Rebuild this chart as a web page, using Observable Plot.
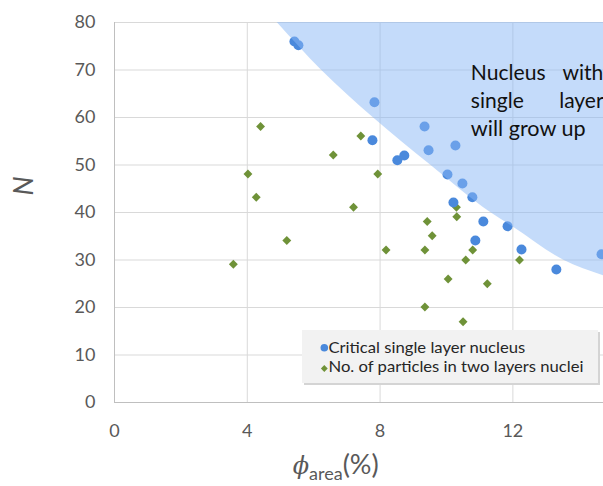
<!DOCTYPE html>
<html><head><meta charset="utf-8">
<script src="https://cdn.jsdelivr.net/npm/d3@7"></script>
<script src="https://cdn.jsdelivr.net/npm/@observablehq/plot@0.6"></script>
<style>
html,body{margin:0;padding:0;background:#fff;overflow:hidden;}
#chart{position:relative;width:603px;height:486px;overflow:hidden;}
</style>
</head><body><div id="chart"></div>
<script>
// Critical single layer nucleus (circles)
const criticalPhi = [5.42, 5.54, 7.83, 7.77, 8.52, 8.73, 9.34, 9.46, 10.27, 10.03, 10.48, 10.21, 10.78, 11.11, 11.84, 10.87, 12.26, 13.31, 14.67];
const criticalN   = [76.0, 75.2, 63.2, 55.2, 51.0, 52.0, 58.1, 53.1, 54.1, 48.0, 46.1, 42.1, 43.2, 38.1, 37.1, 34.1, 32.2, 28.0, 31.2];
// No. of particles in two layers nuclei (diamonds)
const twoLayerPhi = [4.40, 7.42, 6.59, 4.02, 7.93, 4.27, 7.20, 5.19, 3.58, 10.30, 10.31, 9.42, 9.57, 8.18, 9.35, 10.79, 10.58, 12.20, 10.05, 11.23, 9.35, 10.50];
const twoLayerN   = [58.1, 56.1, 52.1, 48.1, 48.1, 43.2, 41.1, 34.1, 29.1, 41.1, 39.1, 38.1, 35.1, 32.1, 32.1, 32.1, 30.0, 30.0, 26.0, 25.0, 20.1, 17.0];
// Boundary of the shaded region "Nucleus with single layer will grow up"
const boundaryPhi = [4.90, 6.23, 7.79, 9.52, 11.33, 12.02, 13.52, 14.73];
const boundaryN   = [80, 70, 60, 50, 40, 36.9, 30, 26.7];
const xTicks = [0, 4, 8, 12];
const yTicks = [0, 10, 20, 30, 40, 50, 60, 70, 80];
const seriesNames = ["Critical single layer nucleus", "No. of particles in two layers nuclei"];
const annotationWords = [["Nucleus", "with"], ["single", "layer"], ["will grow up"]];

const critical = criticalPhi.map((x, i) => ({x, y: criticalN[i]}));
const twoLayer = twoLayerPhi.map((x, i) => ({x, y: twoLayerN[i]}));
const boundary = boundaryPhi.map((x, i) => ({x, y: boundaryN[i]}));

const blue = "#4a89dc", green = "#6f9238";

const plot = Plot.plot({
  width: 603, height: 486,
  marginLeft: 114, marginRight: 0, marginTop: 22, marginBottom: 84,
  style: {fontFamily: "Lato, sans-serif", fontSize: "18px", color: "#595959", background: "#fff", overflow: "hidden"},
  x: {domain: [0, 14.73], ticks: xTicks, tickSize: 0, tickPadding: 22, label: null},
  y: {domain: [0, 80], ticks: yTicks, tickSize: 0, tickPadding: 19, label: null},
  marks: [
    Plot.ruleY(yTicks.filter(d => d > 0), {stroke: "#d9d9d9"}),
    Plot.ruleX(xTicks.filter(d => d > 0), {stroke: "#d9d9d9"}),
    Plot.dot(twoLayer, {x: "x", y: "y", symbol: "diamond2", r: 4, fill: green}),
    Plot.dot(critical, {x: "x", y: "y", r: 5, fill: blue}),
    Plot.areaY(boundary, {x: "x", y1: "y", y2: 80, curve: "monotone-x", fill: "#8ab8f5", fillOpacity: 0.5}),
    Plot.ruleX([0], {stroke: "#bfbfbf"}),
    Plot.ruleY([0], {stroke: "#bfbfbf"})
  ]
});
document.getElementById("chart").appendChild(plot);

const svg = d3.select(plot);
const X = plot.scale("x"), Y = plot.scale("y");

// Annotation inside shaded region
const ax = X.apply(10.75), ay = Y.apply(67.8);
const ann = svg.append("g").attr("font-family", "Lato, sans-serif").attr("font-size", 21).attr("fill", "#111").attr("text-anchor", "start");
const annRight = [X.apply(13.51), X.apply(13.41)];
const annWidths = [74.7, 53, 114.7];
annotationWords.forEach((words, i) => {
  ann.append("text").attr("x", ax).attr("y", ay + i * 28).attr("textLength", annWidths[i]).attr("lengthAdjust", "spacingAndGlyphs").text(words[0]);
  if (words[1]) ann.append("text").attr("x", annRight[i]).attr("y", ay + i * 28).text(words[1]);
});

// Legend
const lg = svg.append("g").attr("text-anchor", "start");
lg.append("rect").attr("x", 304).attr("y", 332).attr("width", 296).attr("height", 53).attr("fill", "#d4d4d4");
lg.append("rect").attr("x", 302).attr("y", 330).attr("width", 296).attr("height", 53).attr("fill", "#f2f2f2");
lg.append("circle").attr("cx", 324.3).attr("cy", 347.7).attr("r", 3.8).attr("fill", blue);
lg.append("path").attr("d", d3.symbol(d3.symbolDiamond2, 30)()).attr("transform", "translate(324.3,368.5)").attr("fill", green);
const legWidths = [196.7, 255];
seriesNames.forEach((name, i) => {
  lg.append("text").attr("x", 328.5).attr("y", [353.3, 372.3][i])
    .attr("font-family", "Lato, sans-serif").attr("font-size", 16).attr("fill", "#262626")
    .attr("textLength", legWidths[i]).attr("lengthAdjust", "spacingAndGlyphs").text(name);
});

// Axis titles
const xl = svg.append("text").attr("x", 292.7).attr("y", 474).attr("text-anchor", "start").attr("fill", "#595959").attr("font-family", "Lato, sans-serif");
xl.append("tspan").attr("font-family", "DejaVu Serif").attr("font-style", "italic").attr("font-size", 24).text("ϕ");
xl.append("tspan").attr("font-size", 18).attr("dy", 6).text("area");
xl.append("tspan").attr("font-size", 27).attr("dy", -6).text("(%)");

svg.append("text").attr("transform", "translate(33,186) rotate(-90)").attr("text-anchor", "middle")
  .attr("font-family", "Lato, sans-serif").attr("font-style", "italic").attr("font-size", 27).attr("fill", "#595959").text("N");
</script>
</body></html>
